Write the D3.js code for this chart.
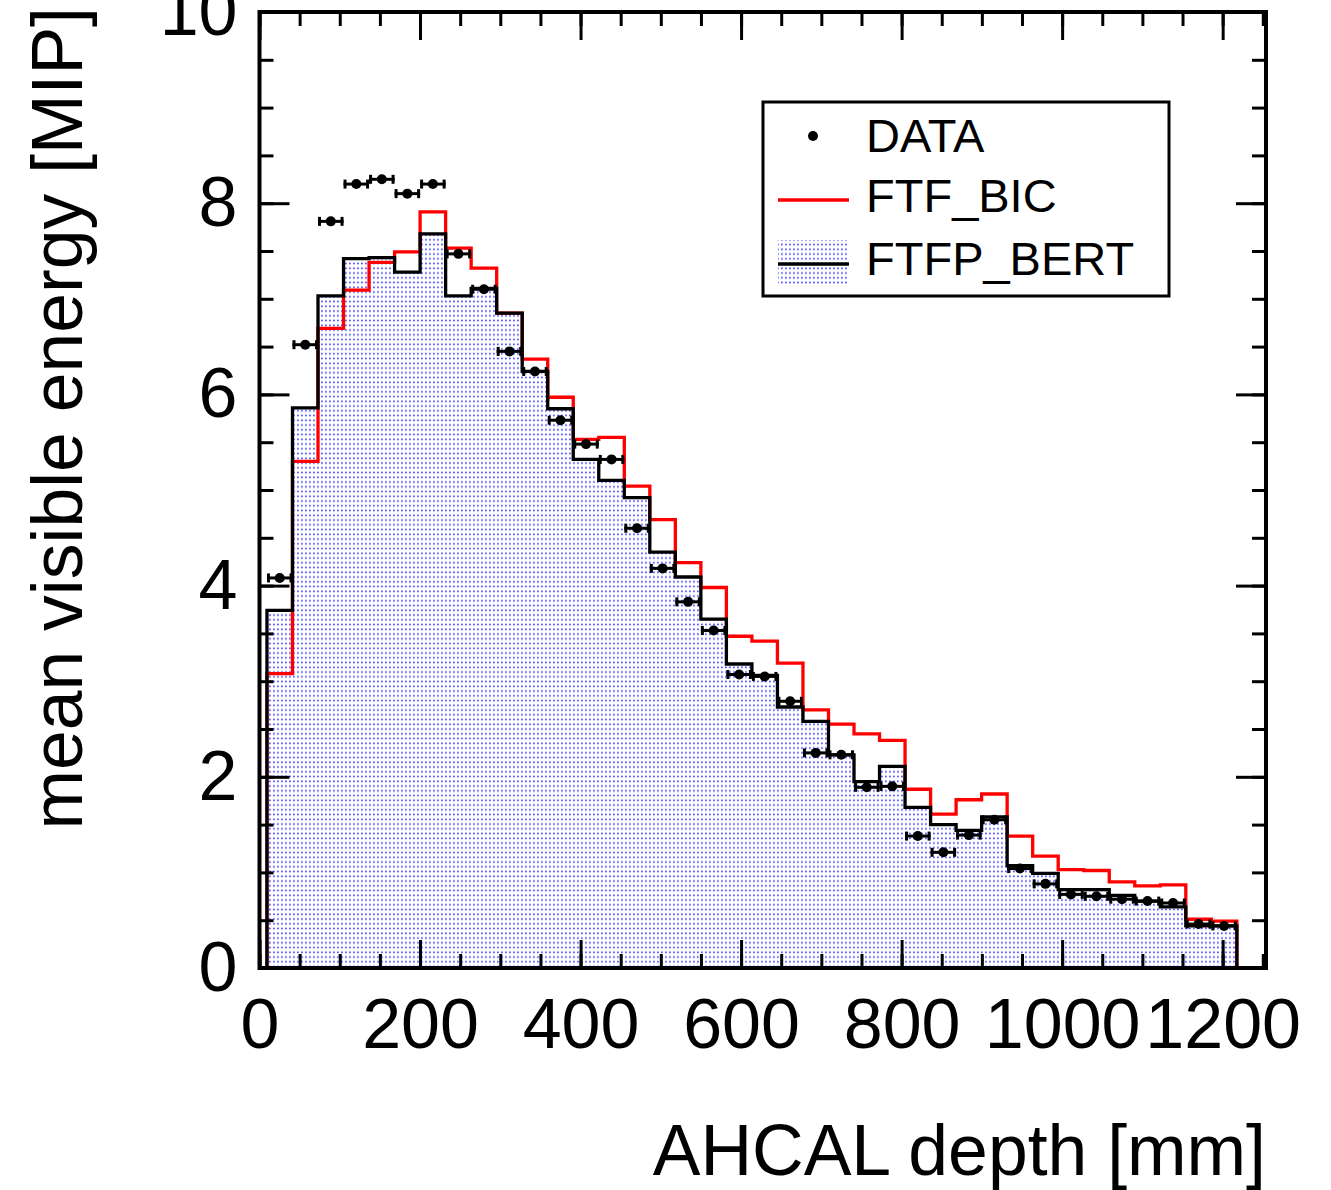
<!DOCTYPE html>
<html>
<head>
<meta charset="utf-8">
<script src="https://cdn.jsdelivr.net/npm/d3@7"></script>
<style>
  body { margin: 0; background: #fff; }
  text { font-family: "Liberation Sans", Arial, Helvetica, sans-serif; }
</style>
</head>
<body>
<div id="chart"></div>
<script>
// AHCAL layers (bin centres, mm) and bin width
var layerDepth = [25.2, 57.0, 88.8, 120.6, 152.4, 184.2, 216.0, 247.8, 279.6, 311.4,
  343.2, 375.0, 406.8, 438.6, 470.4, 502.2, 534.0, 565.8, 597.6, 629.4,
  661.2, 693.0, 724.8, 756.6, 788.4, 820.2, 852.0, 883.8, 915.6, 947.4,
  979.2, 1011.0, 1042.8, 1074.6, 1106.4, 1138.2, 1170.0, 1201.8];
var layerWidth = 31.8;

var dataValues = [4.08, 6.52, 7.81, 8.20, 8.25, 8.10, 8.20, 7.47, 7.10, 6.45,
  6.24, 5.73, 5.48, 5.32, 4.60, 4.18, 3.83, 3.53, 3.07, 3.05,
  2.79, 2.25, 2.23, 1.89, 1.90, 1.38, 1.21, 1.39, 1.55, 1.04,
  0.88, 0.77, 0.75, 0.72, 0.70, 0.68, 0.46, 0.44];

var ftfBic = [3.08, 5.30, 6.69, 7.09, 7.38, 7.49, 7.91, 7.53, 7.32, 6.85,
  6.37, 5.97, 5.53, 5.55, 5.04, 4.69, 4.24, 3.98, 3.47, 3.42,
  3.19, 2.70, 2.55, 2.45, 2.38, 1.87, 1.61, 1.76, 1.82, 1.38,
  1.17, 1.03, 1.02, 0.90, 0.86, 0.87, 0.51, 0.49];

var ftfpBert = [3.74, 5.86, 7.03, 7.42, 7.43, 7.28, 7.68, 7.03, 7.11, 6.85,
  6.24, 5.85, 5.32, 5.10, 4.92, 4.35, 4.09, 3.65, 3.18, 3.06,
  2.73, 2.58, 2.23, 1.95, 2.11, 1.68, 1.50, 1.44, 1.58, 1.07,
  0.99, 0.82, 0.82, 0.76, 0.70, 0.64, 0.44, 0.44];

var xTicks = [0, 200, 400, 600, 800, 1000, 1200];
var yTicks = [0, 2, 4, 6, 8, 10];
var legendLabels = ["DATA", "FTF_BIC", "FTFP_BERT"];

var w = 1331, h = 1190;
var padL = 259.5, padR = 1266, padT = 12, padB = 968;

var svg = d3.select("#chart").append("svg")
  .attr("width", w)
  .attr("height", h);

svg.append("rect").attr("width", w).attr("height", h).attr("fill", "#fff");

var x = d3.scaleLinear().domain([0, 1254]).range([padL, padR]);
var y = d3.scaleLinear().domain([0, 10]).range([padB, padT]);

// dotted fill like ROOT fill style
var pat = svg.append("defs").append("pattern")
  .attr("id", "dots")
  .attr("patternUnits", "userSpaceOnUse")
  .attr("width", 4)
  .attr("height", 4.75);
pat.append("rect")
  .attr("x", 1).attr("y", 1.5)
  .attr("width", 1.8).attr("height", 1.6)
  .attr("fill", "#4a4aff");

function steps(values) {
  var pts = [{ x: layerDepth[0] - layerWidth / 2, v: 0 }];
  values.forEach(function(v, i) {
    pts.push({ x: layerDepth[i] - layerWidth / 2, v: v });
    pts.push({ x: layerDepth[i] + layerWidth / 2, v: v });
  });
  pts.push({ x: layerDepth[layerDepth.length - 1] + layerWidth / 2, v: 0 });
  return pts;
}

var line = d3.line().x(function(d) { return x(d.x); }).y(function(d) { return y(d.v); });
var area = d3.area().x(function(d) { return x(d.x); }).y0(y(0)).y1(function(d) { return y(d.v); });

svg.append("path")
  .attr("d", area(steps(ftfpBert)))
  .attr("fill", "url(#dots)");

svg.append("path")
  .attr("d", line(steps(ftfBic)))
  .attr("fill", "none")
  .attr("stroke", "#ff0000")
  .attr("stroke-width", 3.3);

svg.append("path")
  .attr("d", line(steps(ftfpBert)))
  .attr("fill", "none")
  .attr("stroke", "#000")
  .attr("stroke-width", 3.3);

// data points with horizontal error bars
var pts = svg.append("g").selectAll("g")
  .data(dataValues)
  .enter().append("g");

pts.append("line")
  .attr("x1", function(d, i) { return x(layerDepth[i] - layerWidth / 2); })
  .attr("x2", function(d, i) { return x(layerDepth[i] + layerWidth / 2); })
  .attr("y1", function(d) { return y(d); })
  .attr("y2", function(d) { return y(d); })
  .attr("stroke", "#000").attr("stroke-width", 3);

[-1, 1].forEach(function(s) {
  pts.append("line")
    .attr("x1", function(d, i) { return x(layerDepth[i] + s * layerWidth / 2) - s * 1.5; })
    .attr("x2", function(d, i) { return x(layerDepth[i] + s * layerWidth / 2) - s * 1.5; })
    .attr("y1", function(d) { return y(d) - 4.5; })
    .attr("y2", function(d) { return y(d) + 4.5; })
    .attr("stroke", "#000").attr("stroke-width", 3);
});

pts.append("circle")
  .attr("cx", function(d, i) { return x(layerDepth[i]); })
  .attr("cy", function(d) { return y(d); })
  .attr("r", 5)
  .attr("fill", "#000");

// axes, ticks on all four sides pointing inwards
var xMinor = d3.range(0, 1254, 50);
var yMinor = d3.range(0, 10.01, 0.5);

function styleAxis(g) {
  g.select(".domain").remove();
  g.selectAll(".tick line").attr("stroke", "#000").attr("stroke-width", 3);
  g.selectAll("text")
    .attr("fill", "#000")
    .attr("font-size", 70)
    .attr("font-family", "'Liberation Sans', Arial, Helvetica, sans-serif");
}

svg.append("g").attr("transform", "translate(0," + padB + ")")
  .call(d3.axisBottom(x).tickValues(xMinor).tickSize(-14).tickFormat("")).call(styleAxis);
svg.append("g").attr("transform", "translate(0," + padB + ")")
  .call(d3.axisBottom(x).tickValues(xTicks).tickSize(-28).tickPadding(30).tickFormat(d3.format("d")))
  .call(styleAxis);
svg.append("g").attr("transform", "translate(0," + padT + ")")
  .call(d3.axisTop(x).tickValues(xMinor).tickSize(-14).tickFormat("")).call(styleAxis);
svg.append("g").attr("transform", "translate(0," + padT + ")")
  .call(d3.axisTop(x).tickValues(xTicks).tickSize(-28).tickFormat("")).call(styleAxis);

svg.append("g").attr("transform", "translate(" + padL + ",0)")
  .call(d3.axisLeft(y).tickValues(yMinor).tickSize(-14).tickFormat("")).call(styleAxis);
svg.append("g").attr("transform", "translate(" + padL + ",0)")
  .call(d3.axisLeft(y).tickValues(yTicks).tickSize(-30).tickPadding(22).tickFormat(d3.format("d")))
  .call(styleAxis);
svg.append("g").attr("transform", "translate(" + padR + ",0)")
  .call(d3.axisRight(y).tickValues(yMinor).tickSize(-14).tickFormat("")).call(styleAxis);
svg.append("g").attr("transform", "translate(" + padR + ",0)")
  .call(d3.axisRight(y).tickValues(yTicks).tickSize(-30).tickFormat("")).call(styleAxis);

// frame
svg.append("rect")
  .attr("x", padL).attr("y", padT)
  .attr("width", padR - padL).attr("height", padB - padT)
  .attr("fill", "none").attr("stroke", "#000").attr("stroke-width", 4);

// axis titles
svg.append("text")
  .attr("x", padR).attr("y", 1175)
  .attr("text-anchor", "end")
  .attr("font-size", 71.5)
  .text("AHCAL depth [mm]");

svg.append("text")
  .attr("transform", "translate(82,7) rotate(-90)")
  .attr("text-anchor", "end")
  .attr("font-size", 71.5)
  .text("mean visible energy [MIP]");

// legend
var lg = svg.append("g");
lg.append("rect")
  .attr("x", 763).attr("y", 102)
  .attr("width", 406).attr("height", 194)
  .attr("fill", "#fff").attr("stroke", "#000").attr("stroke-width", 3);

lg.append("circle").attr("cx", 813).attr("cy", 136).attr("r", 5).attr("fill", "#000");
lg.append("line").attr("x1", 778).attr("x2", 849).attr("y1", 200).attr("y2", 200)
  .attr("stroke", "#ff0000").attr("stroke-width", 3.3);
lg.append("rect").attr("x", 778).attr("y", 240).attr("width", 71).attr("height", 46)
  .attr("fill", "url(#dots)");
lg.append("line").attr("x1", 778).attr("x2", 849).attr("y1", 264).attr("y2", 264)
  .attr("stroke", "#000").attr("stroke-width", 3.3);

lg.selectAll("text.lab")
  .data(legendLabels)
  .enter().append("text")
  .attr("class", "lab")
  .attr("x", 866)
  .attr("y", function(d, i) { return [152, 212, 275][i]; })
  .attr("font-size", 47)
  .text(function(d) { return d; });
</script>
</body>
</html>
